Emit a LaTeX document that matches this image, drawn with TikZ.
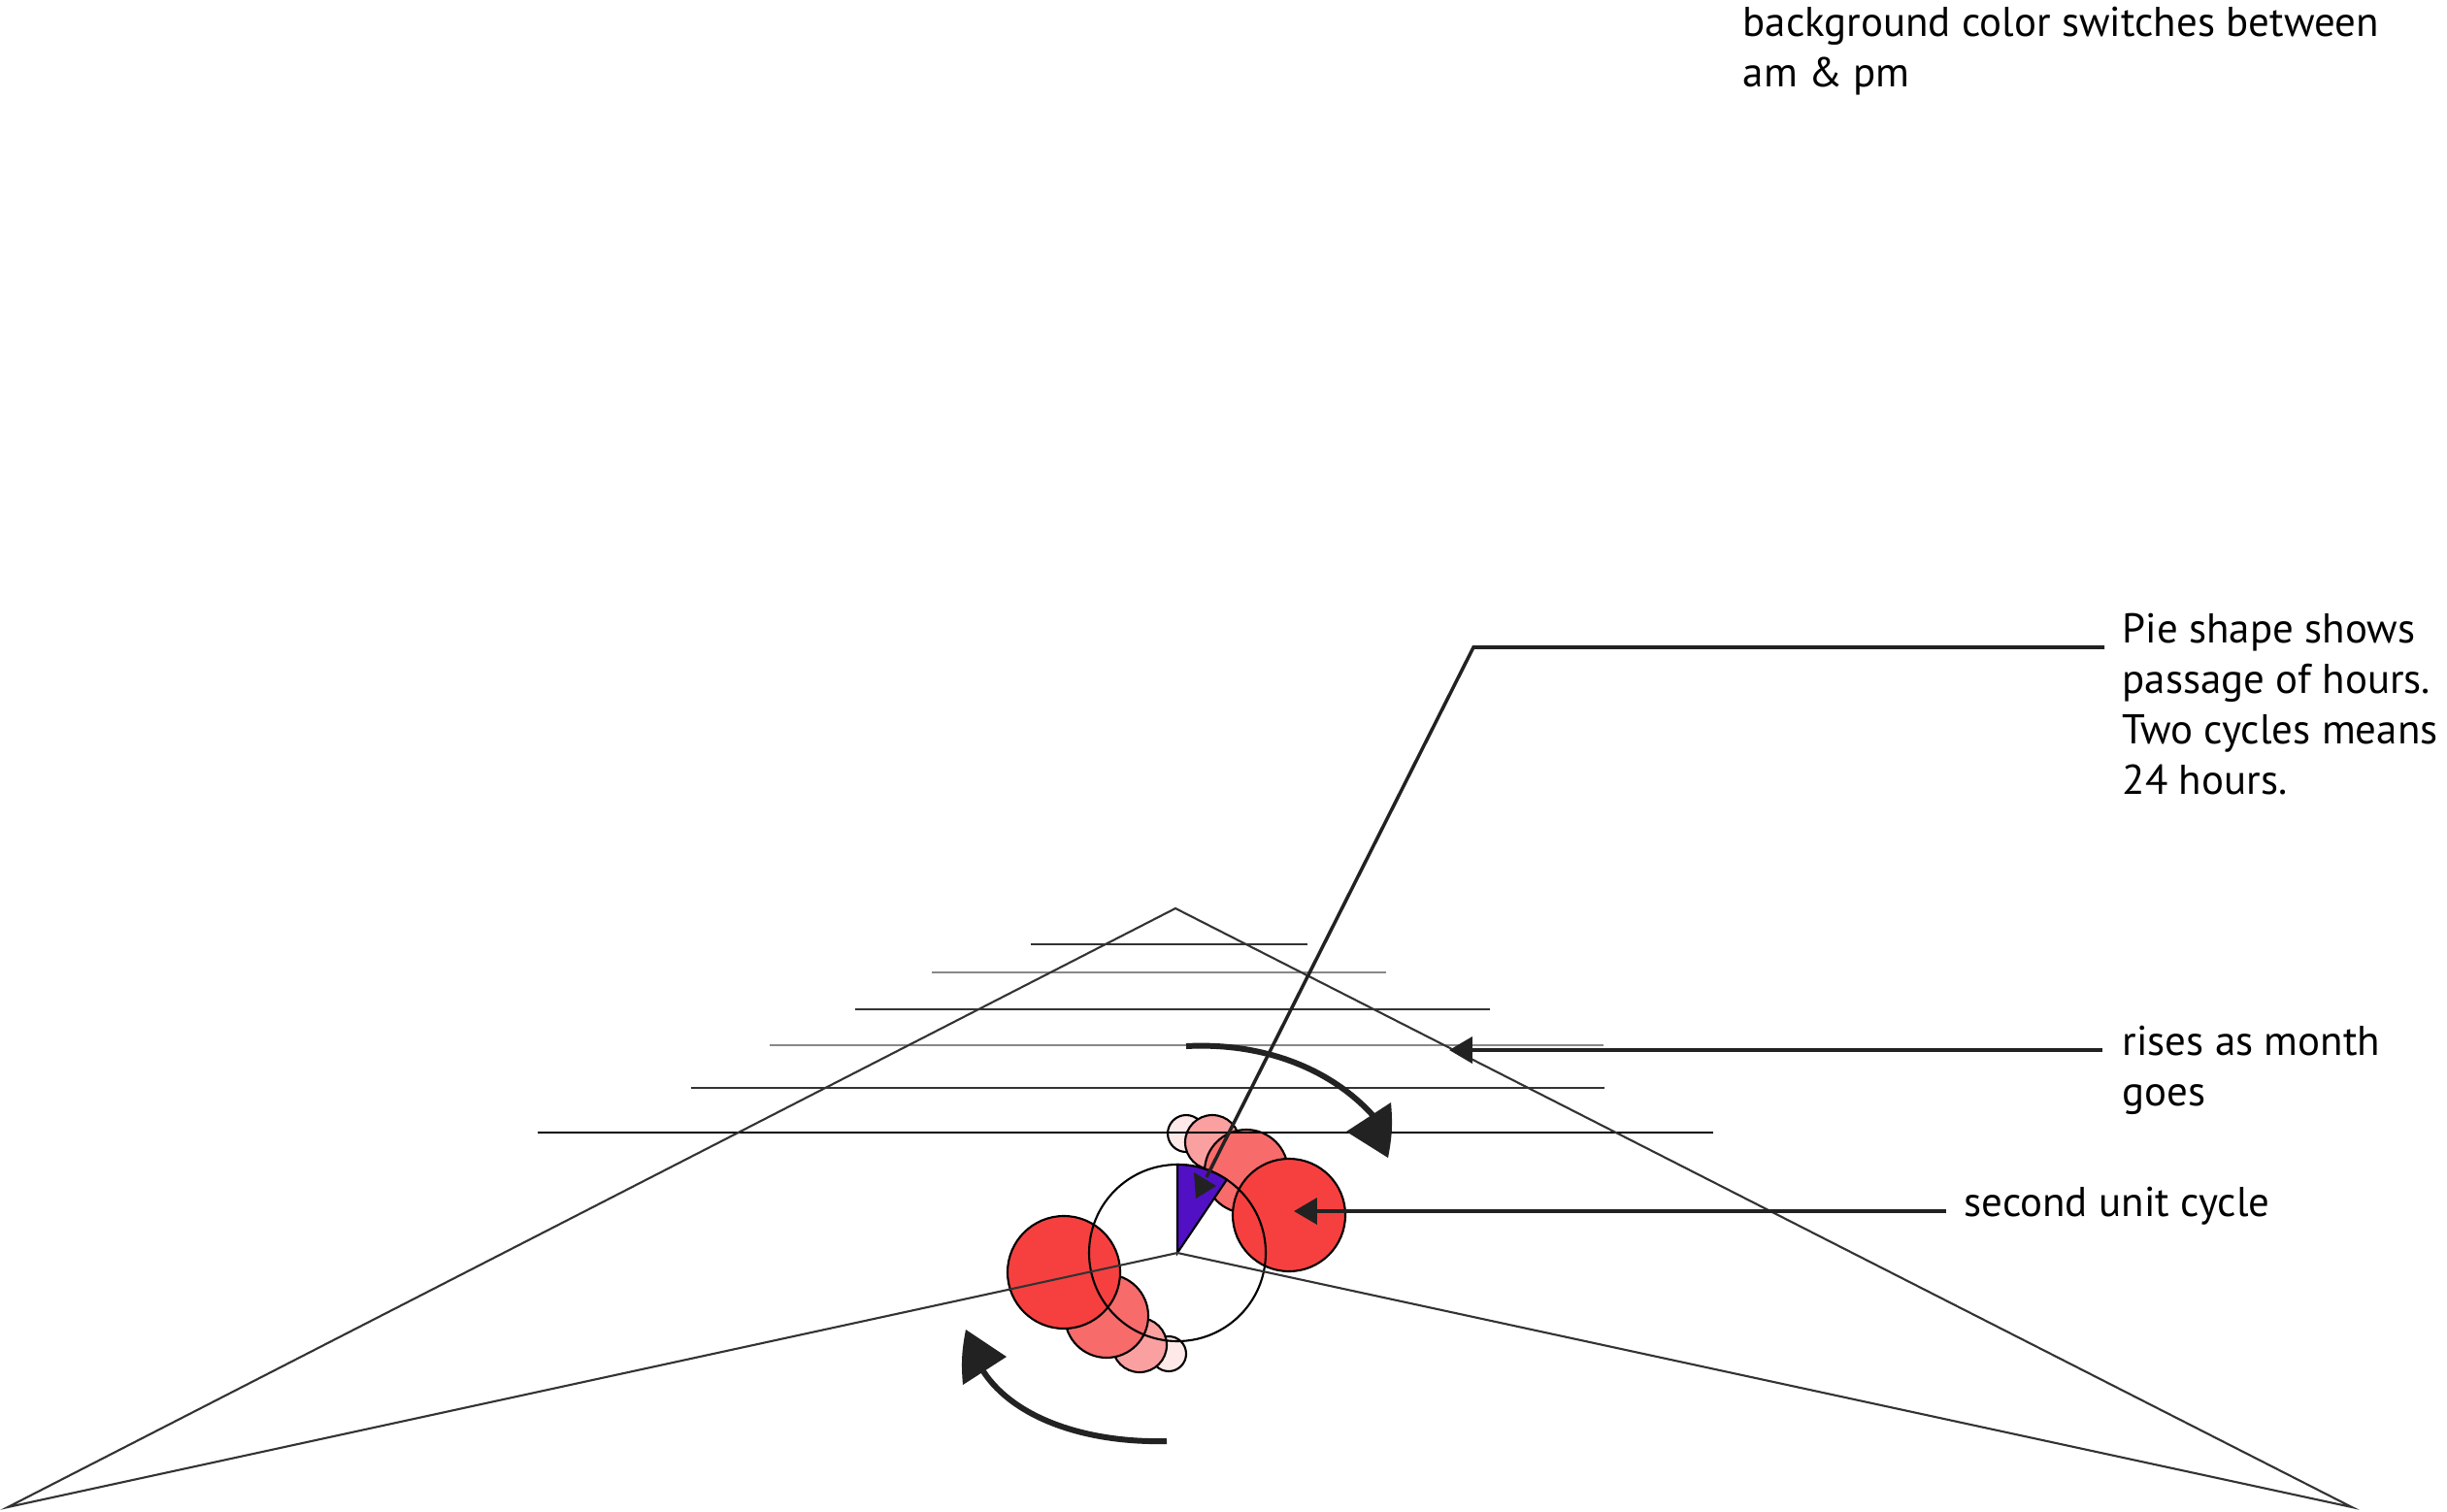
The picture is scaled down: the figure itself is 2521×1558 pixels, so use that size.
\documentclass[tikz,border=0pt]{standalone}
\usepackage{fontspec}
\newfontfamily\notefont{PT Sans}
\definecolor{inkgray}{RGB}{34,34,34}
\definecolor{rulegray}{RGB}{51,51,51}
\definecolor{palegray}{RGB}{136,136,136}
\definecolor{redbig}{RGB}{246,64,64}
\definecolor{redmid}{RGB}{247,107,107}
\definecolor{redlow}{RGB}{250,160,160}
\definecolor{redpale}{RGB}{255,232,232}
\definecolor{hourpurple}{RGB}{82,16,196}
\usetikzlibrary{arrows.meta,calc}

\begin{document}
\begin{tikzpicture}[x=0.01cm, y=-0.01cm,
    note/.style={inner sep=0pt, align=left, font=\notefont\fontsize{12.2}{14.8}\selectfont},
    bubble/.style={draw=black, line width=0.6pt},
    frame/.style={draw=rulegray, line width=0.6pt},
    guide/.style={line width=0.5pt},
    pointer/.style={draw=inkgray, line width=1pt},
    sweep/.style={draw=inkgray, line width=1.7pt},
    head/.style={fill=inkgray, draw=none},
    >={Triangle[length=6.8pt,width=7.7pt]}
  ]
    \useasboundingbox (0,0) rectangle (2521,1558);

    % Day centre and corners
    \coordinate (hub) at (1213,1291);
    \coordinate (apex) at (1211,936);
    \coordinate (lcorner) at (8,1553);
    \coordinate (rcorner) at (2423,1553);

    % Unit bubbles, right side (small to big)
    \draw[bubble, fill=redpale] (1222,1168) circle[radius=19];
    \draw[bubble, fill=redlow] (1249,1177) circle[radius=28];
    \draw[bubble, fill=redmid] (1284,1207) circle[radius=43];
    \draw[bubble, fill=redbig] (1328,1252) circle[radius=58];

    % Unit bubbles, left side
    \draw[bubble, fill=redpale] (1204,1395) circle[radius=18];
    \draw[bubble, fill=redlow] (1174,1386) circle[radius=28];
    \draw[bubble, fill=redmid] (1140,1356) circle[radius=43];
    \draw[bubble, fill=redbig] (1096,1311) circle[radius=58];

    % Clock and hour pie
    \draw[bubble] (hub) circle[radius=91];
    \draw[bubble, fill=hourpurple] (hub) -- ++(-90:91)
      arc[start angle=-90, end angle=-56, radius=91] -- cycle;

    % Month levels
    \foreach \y/\xa/\xb/\c in {973/1062/1347/rulegray, 1002/960/1428/palegray,
        1040/881/1535/rulegray, 1077/793/1652/palegray,
        1121/712/1653/rulegray, 1167/554/1765/black}
      \draw[guide, draw=\c] (\xa,\y) -- (\xb,\y);

    % Outline
    \draw[frame] (apex) -- (lcorner) -- (hub) -- (rcorner) -- cycle;

    % Turning arrows
    \draw[sweep] (1222,1078) .. controls (1300,1074) and (1370,1100) .. (1415,1150);
    \fill[head] (1433,1136) to[bend left=8] (1430,1193) -- (1387,1166) -- cycle;
    \draw[sweep] (1202,1485) .. controls (1120,1487) and (1045,1462) .. (1013,1413);
    \fill[head] (995,1370) to[bend right=8] (992,1427) -- (1037,1398) -- cycle;

    % Notes
    \node[note, anchor=north west] (bgnote) at (1795,6)
      {background color switches between\\am \& pm};
    \node[note, anchor=north west] (pienote) at (2186,631)
      {Pie shape shows\\passage of hours.\\Two cycles means\\24 hours.};
    \node[note, anchor=north west] (risenote) at (2186,1056)
      {rises as month\\goes};
    \node[note, anchor=base west] (cyclenote) at (2023,1253)
      {second unit cycle};

    % Pointers
    \coordinate (piebend) at (1518,667);
    \coordinate (pietip) at (1243,1213);
    \coordinate (risetip) at (1493,1082);
    \coordinate (cycletip) at (1333,1248);

    \draw[pointer] ($(pienote.north west)+(-18,36)$) -- (piebend) -- (pietip);
    \fill[head] (1230,1208) -- (1253,1222) -- (1232,1235) -- cycle;
    \draw[pointer, ->] ($(risenote.north west)+(-20,26)$) -- (risetip);
    \draw[pointer, ->] ($(cyclenote.base west)+(-18,-5)$) -- (cycletip);
  \end{tikzpicture}
\end{document}
